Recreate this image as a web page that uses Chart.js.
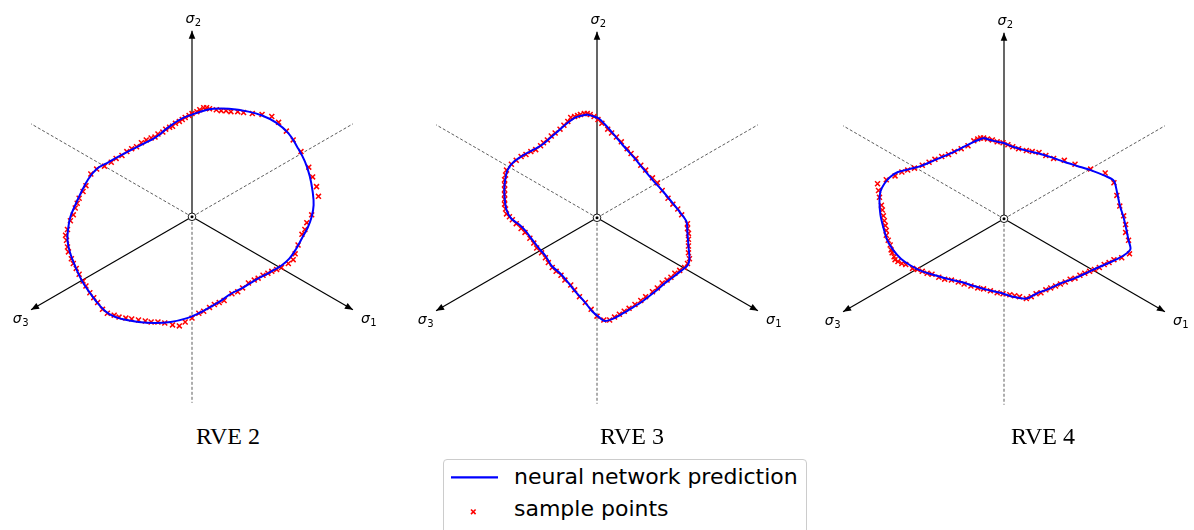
<!DOCTYPE html>
<html>
<head>
<meta charset="utf-8">
<title>Yield loci in the deviatoric plane</title>
<script src="https://cdn.jsdelivr.net/npm/chart.js@4.4.1/dist/chart.umd.min.js"></script>
<style>
  html, body { margin: 0; padding: 0; background: #fff; }
  body { width: 1194px; height: 530px; position: relative; overflow: hidden; }
  canvas.panel { position: absolute; top: 0; }
  .rve {
    position: absolute; top: 424px; width: 200px; text-align: center;
    font-family: "Liberation Serif", "Times New Roman", serif;
    font-size: 24px; line-height: 24px; color: #000;
  }
  #legend {
    position: absolute; left: 443px; top: 459px; width: 362px; height: 74px;
    border: 1px solid #cccccc; border-radius: 4px; background: rgba(255,255,255,0.8);
  }
  #legend svg { position: absolute; left: 0; top: 0; }
  .lg-text {
    position: absolute; left: 70px; white-space: nowrap; color: #000;
    font-family: "DejaVu Sans", sans-serif; font-size: 22px; line-height: 22px;
  }
</style>
</head>
<body>

<canvas id="rve2" class="panel" width="406" height="420"></canvas>
<canvas id="rve3" class="panel" width="406" height="420"></canvas>
<canvas id="rve4" class="panel" width="406" height="420"></canvas>

<div class="rve" id="title0"></div>
<div class="rve" id="title1"></div>
<div class="rve" id="title2"></div>

<div id="legend">
  <svg width="362" height="74">
    <line x1="7" y1="17.3" x2="54" y2="17.3" stroke="#0000ff" stroke-width="2.2"/>
    <path d="M27 49.5 L31.6 54.1 M31.6 49.5 L27 54.1" stroke="#ff0000" stroke-width="1.6"/>
  </svg>
  <div class="lg-text" id="lg0" style="top:6.4px"></div>
  <div class="lg-text" id="lg1" style="top:38.4px"></div>
</div>

<script>
// panel titles and legend entries
const titles = ["RVE 2", "RVE 3", "RVE 4"];
const seriesNames = ["neural network prediction", "sample points"];

// principal stress axes in the pi-plane: label index and direction (deg)
const axisNames = ["1", "2", "3"];
const axisAngles = [-30, 90, 210];
const AXIS_LEN = 191;

// predicted yield loci, [x, y] in the pi-plane
const rve2Curve = [
  [0,105],[12,109],[22,111],[38,111],[58,108],[72,104],[86,97],[99,86],[108,72],[116,57],
  [121,42],[124,26],[125,12],[123,0],[119,-11],[113,-22],[107,-33],[100,-43],[92,-50],[80,-57],
  [65,-65],[52,-73],[40,-79],[30,-86],[18,-93],[7,-99],[-5,-104],[-22,-108],[-38,-109],[-55,-108],
  [-72,-105],[-85,-100],[-95,-91],[-105,-78],[-113,-66],[-120,-51],[-125,-38],[-128,-24],[-127,-10],[-125,0],
  [-120,12],[-114,25],[-107,38],[-98,49],[-86,56],[-75,62],[-62,69],[-48,76],[-40,80],[-34,84],
  [-28,89],[-20,95],[-10,101]
];
const rve3Curve = [
  [-10,106],[-3,104],[2,102],[8,96],[17,86],[27,74],[37,63],[47,51],[57,39],[67,28],
  [77,16],[85,6],[92,-4],[93,-16],[94,-29],[95,-42],[93,-49],[87,-54],[78,-61],[70,-67],
  [62,-74],[53,-81],[45,-87],[37,-92],[27,-98],[18,-103],[8,-106],[2,-102],[-5,-96],[-13,-86],
  [-22,-76],[-30,-66],[-38,-57],[-47,-49],[-53,-39],[-60,-31],[-67,-22],[-73,-14],[-80,-7],[-88,-1],
  [-93,8],[-95,21],[-95,34],[-92,49],[-85,58],[-73,66],[-63,71],[-55,76],[-47,83],[-40,89],
  [-32,96],[-22,103],[-15,105]
];
const rve4Curve = [
  [-21,83],[-11,80],[-1,78],[9,74],[23,70],[36,67],[49,63],[63,58],[76,54],[89,50],
  [104,44],[113,39],[116,28],[119,14],[123,1],[126,-12],[128,-22],[130,-31],[124,-37],[113,-43],
  [99,-49],[86,-55],[73,-61],[59,-66],[46,-72],[33,-77],[23,-82],[9,-80],[-4,-76],[-17,-73],
  [-31,-69],[-44,-65],[-57,-62],[-71,-58],[-84,-54],[-96,-48],[-106,-41],[-114,-32],[-120,-22],[-124,-9],
  [-127,4],[-128,18],[-127,28],[-123,36],[-117,43],[-109,48],[-97,51],[-86,54],[-74,59],[-62,64],
  [-51,69],[-41,74],[-31,79]
];

// sampled yield points, [x, y] in the pi-plane
const rve2Samples = [
  [12,112],[15,112],[18,111],[25,110],[30,109],[35,109],[40,108],[47,108],[53,107],[62,106],
  [72,105],[82,103],[89,97],[97,88],[104,79],[112,67],[120,51],[124,41],[128,31],[130,21],
  [123,2],[118,-6],[116,-13],[113,-18],[109,-29],[106,-38],[104,-44],[99,-48],[92,-52],[87,-54],
  [82,-56],[78,-58],[73,-60],[68,-63],[64,-65],[58,-68],[52,-73],[47,-77],[41,-79],[33,-86],
  [28,-88],[23,-90],[18,-93],[12,-97],[7,-99],[0,-104],[-7,-108],[-13,-112],[-20,-111],[-28,-109],
  [-35,-108],[-42,-108],[-48,-107],[-55,-106],[-62,-105],[-68,-104],[-75,-103],[-80,-101],[-87,-99],[-92,-95],
  [-97,-88],[-101,-83],[-105,-78],[-109,-71],[-112,-66],[-116,-59],[-119,-53],[-122,-48],[-124,-43],[-127,-36],
  [-128,-31],[-129,-24],[-130,-19],[-128,-13],[-125,-4],[-122,2],[-120,9],[-118,14],[-116,19],[-112,26],
  [-109,32],[-104,44],[-98,49],[-90,52],[-83,56],[-78,60],[-72,63],[-67,67],[-62,70],[-57,72],
  [-52,76],[-47,79],[-42,81],[-38,82],[-35,85],[-30,87],[-27,90],[-23,92],[-20,93],[-17,96],
  [-13,98],[-10,100],[-7,102],[-3,104],[0,106],[5,108],[8,110]
];
const rve3Samples = [
  [-27,103],[-23,104],[-20,105],[-17,106],[-13,107],[-10,107],[-7,106],[-3,104],[1,101],[5,97],
  [11,91],[15,87],[20,83],[25,78],[31,71],[35,66],[40,61],[45,54],[50,49],[57,41],
  [62,36],[67,28],[73,20],[78,14],[83,9],[87,3],[93,-6],[93,-11],[94,-16],[94,-22],
  [94,-29],[94,-36],[95,-42],[93,-47],[90,-51],[85,-54],[80,-57],[76,-61],[72,-64],[67,-67],
  [62,-72],[57,-76],[50,-81],[45,-85],[39,-89],[33,-93],[28,-96],[23,-99],[18,-102],[13,-105],
  [7,-105],[0,-101],[-6,-94],[-12,-87],[-18,-81],[-23,-74],[-27,-69],[-33,-64],[-37,-59],[-42,-55],
  [-46,-51],[-50,-46],[-53,-41],[-57,-36],[-62,-31],[-65,-26],[-69,-21],[-74,-15],[-78,-11],[-83,-6],
  [-87,-2],[-90,1],[-93,4],[-94,9],[-95,14],[-95,19],[-95,24],[-95,29],[-95,34],[-95,39],
  [-94,44],[-93,49],[-88,55],[-83,59],[-78,63],[-73,65],[-68,68],[-63,70],[-58,74],[-55,77],
  [-51,80],[-47,84],[-43,87],[-38,91],[-34,95],[-30,99]
];
const rve4Samples = [
  [-31,80],[-27,82],[-24,83],[-21,83],[-17,82],[-12,81],[-7,79],[-1,78],[4,76],[9,74],
  [15,72],[23,70],[29,69],[36,68],[43,65],[51,62],[62,60],[73,56],[89,51],[104,47],
  [113,37],[116,24],[119,13],[123,3],[125,-6],[125,-14],[128,-22],[129,-36],[121,-40],[113,-42],
  [108,-45],[103,-47],[98,-50],[93,-52],[88,-54],[83,-56],[78,-58],[73,-61],[68,-62],[63,-65],
  [58,-67],[53,-69],[48,-71],[43,-73],[38,-76],[33,-77],[28,-80],[23,-82],[16,-80],[11,-79],
  [6,-78],[-1,-77],[-7,-76],[-14,-74],[-21,-72],[-27,-71],[-34,-69],[-41,-67],[-47,-65],[-54,-63],
  [-61,-62],[-67,-60],[-74,-57],[-79,-56],[-84,-54],[-89,-52],[-94,-51],[-101,-47],[-105,-46],[-109,-44],
  [-112,-42],[-113,-39],[-115,-35],[-116,-32],[-117,-27],[-119,-22],[-121,-17],[-121,-12],[-122,-7],[-123,-2],
  [-124,3],[-125,9],[-126,14],[-128,22],[-129,29],[-130,36],[-121,40],[-112,44],[-105,48],[-99,50],
  [-92,52],[-84,55],[-77,58],[-71,61],[-64,64],[-57,66],[-51,69],[-44,72],[-37,75]
];

const curves = [rve2Curve, rve3Curve, rve4Curve];
const samples = [rve2Samples, rve3Samples, rve4Samples];

// page placement of each panel's origin (px)
const layout = [
  { id: "rve2", cx: 191.7, cy: 217, titleX: 228, tension: 0.4 },
  { id: "rve3", cx: 596.7, cy: 218, titleX: 632, tension: 0.25 },
  { id: "rve4", cx: 1004,  cy: 219, titleX: 1043, tension: 0.25 }
];
const HALF_W = 203, CANVAS_H = 420;

const toPts = arr => arr.map(([x, y]) => ({ x, y }));
const dir = deg => [Math.cos(deg * Math.PI / 180), Math.sin(deg * Math.PI / 180)];

// draws sigma_i with a lowered subscript
function drawSigma(ctx, sub, x, y, align) {
  ctx.font = 'italic 14px "DejaVu Sans"';
  const w1 = ctx.measureText("\u03c3").width;
  ctx.font = '10px "DejaVu Sans"';
  const w2 = ctx.measureText(sub).width;
  let left = x;
  if (align === "right") left = x - w1 - w2;
  if (align === "center") left = x - (w1 + w2) / 2;
  ctx.textAlign = "left";
  ctx.textBaseline = "alphabetic";
  ctx.fillStyle = "#000";
  ctx.font = 'italic 14px "DejaVu Sans"';
  ctx.fillText("\u03c3", left, y);
  ctx.font = '10px "DejaVu Sans"';
  ctx.fillText(sub, left + w1 + 0.5, y + 3);
}

// arrow heads, axis labels and the hydrostatic-axis marker
const axisDecor = {
  id: "axisDecor",
  afterDatasetsDraw(chart) {
    const { ctx, scales: { x, y } } = chart;
    const ox = x.getPixelForValue(0), oy = y.getPixelForValue(0);
    ctx.save();
    axisAngles.forEach((deg, i) => {
      const [c, s] = dir(deg);
      const tx = x.getPixelForValue(AXIS_LEN * c);
      const ty = y.getPixelForValue(AXIS_LEN * s);
      const a = Math.atan2(ty - oy, tx - ox);
      const L = 8, W = 3.3;
      ctx.fillStyle = "#000";
      ctx.beginPath();
      ctx.moveTo(tx, ty);
      ctx.lineTo(tx - L * Math.cos(a) + W * Math.sin(a), ty - L * Math.sin(a) - W * Math.cos(a));
      ctx.lineTo(tx - L * Math.cos(a) - W * Math.sin(a), ty - L * Math.sin(a) + W * Math.cos(a));
      ctx.closePath();
      ctx.fill();
      if (deg === 90) drawSigma(ctx, axisNames[i], tx + 1, ty - 8, "center");
      else if (c > 0) drawSigma(ctx, axisNames[i], tx + 8, ty + 13, "left");
      else drawSigma(ctx, axisNames[i], tx - 3, ty + 13, "right");
    });
    // circled dot at the origin
    ctx.lineWidth = 0.9;
    ctx.strokeStyle = "#000";
    ctx.fillStyle = "#fff";
    ctx.beginPath();
    ctx.arc(ox, oy, 3.8, 0, Math.PI * 2);
    ctx.fill();
    ctx.stroke();
    ctx.fillStyle = "#000";
    ctx.beginPath();
    ctx.arc(ox, oy, 1.5, 0, Math.PI * 2);
    ctx.fill();
    ctx.restore();
  }
};

layout.forEach((p, k) => {
  const canvas = document.getElementById(p.id);
  canvas.style.left = (p.cx - HALF_W) + "px";

  const title = document.getElementById("title" + k);
  title.textContent = titles[k];
  title.style.left = (p.titleX - 100) + "px";

  const loop = toPts(curves[k]);
  loop.push(loop[0]);

  const datasets = [
    {
      label: seriesNames[0], data: loop, showLine: true,
      borderColor: "#0000ff", borderWidth: 2, tension: p.tension,
      pointRadius: 0
    },
    {
      label: seriesNames[1], data: toPts(samples[k]),
      pointStyle: "crossRot", pointRadius: 3.5,
      pointBorderColor: "#ff0000", pointBackgroundColor: "#ff0000", pointBorderWidth: 1.5
    }
  ];
  // solid positive axes
  axisAngles.forEach(deg => {
    const [c, s] = dir(deg);
    datasets.push({
      data: [{ x: 0, y: 0 }, { x: AXIS_LEN * c, y: AXIS_LEN * s }], showLine: true,
      borderColor: "#000", borderWidth: 1.2, pointRadius: 0
    });
  });
  // dashed negative axes
  axisAngles.forEach(deg => {
    const [c, s] = dir(deg);
    datasets.push({
      data: [{ x: 0, y: 0 }, { x: -AXIS_LEN * c, y: -AXIS_LEN * s }], showLine: true,
      borderColor: "#333", borderWidth: 0.8, borderDash: [3, 2], pointRadius: 0
    });
  });

  new Chart(canvas, {
    type: "scatter",
    data: { datasets },
    options: {
      responsive: false,
      animation: false,
      events: [],
      layout: { padding: 0 },
      plugins: { legend: { display: false }, tooltip: { enabled: false } },
      scales: {
        x: { type: "linear", display: false, min: -HALF_W, max: HALF_W },
        y: { type: "linear", display: false, min: p.cy - CANVAS_H, max: p.cy }
      }
    },
    plugins: [axisDecor]
  });
});

document.getElementById("lg0").textContent = seriesNames[0];
document.getElementById("lg1").textContent = seriesNames[1];
</script>
</body>
</html>
